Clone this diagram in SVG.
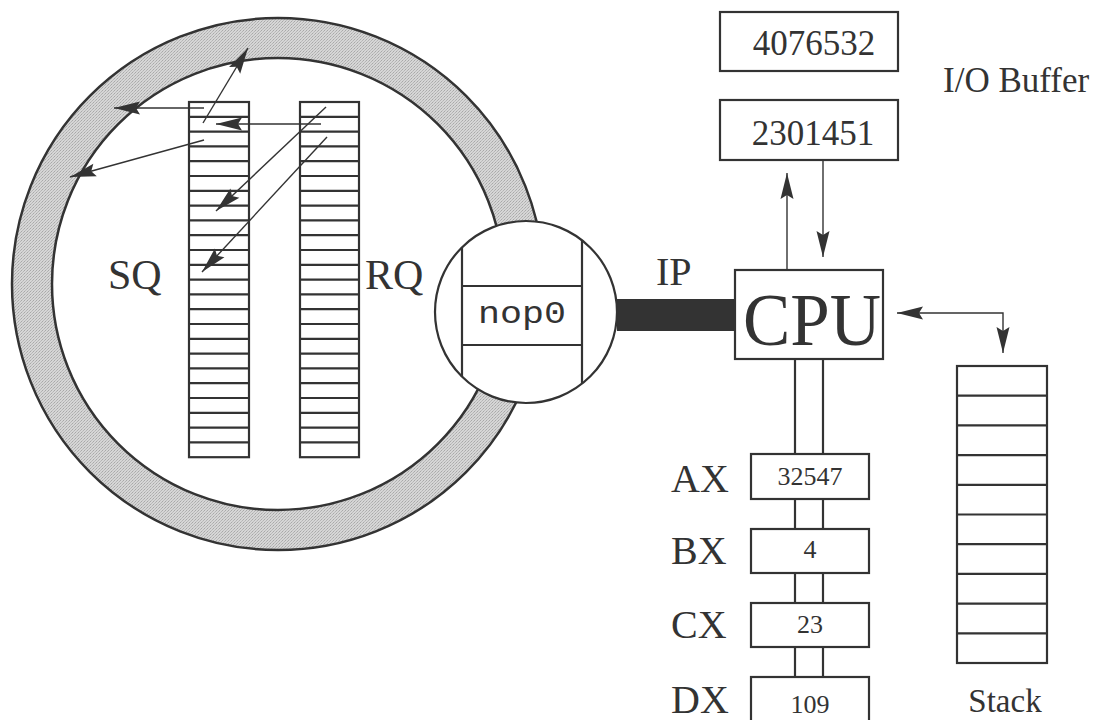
<svg xmlns="http://www.w3.org/2000/svg" width="1102" height="720" viewBox="0 0 1102 720">
<style>
.ln{fill:none;stroke:#333;stroke-width:2.2}
.th{fill:none;stroke:#333;stroke-width:1.4}
.bx{fill:#fff;stroke:#333;stroke-width:2.2}
.t{font-family:"Liberation Serif","Times New Roman",serif;fill:#333}
.m{font-family:"Liberation Mono","Courier New",monospace;fill:#333}
</style>
<defs>
<pattern id="stip" width="3" height="3" patternUnits="userSpaceOnUse">
<rect width="3" height="3" fill="#d6d6d6"/>
<rect x="0" y="0" width="1" height="1" fill="#a8a8a8"/>
<rect x="2" y="1" width="1" height="1" fill="#b4b4b4"/>
<rect x="1" y="2" width="1" height="1" fill="#bcbcbc"/>
</pattern>
<marker id="ah" markerWidth="30" markerHeight="16" refX="0" refY="0" orient="auto-start-reverse" markerUnits="userSpaceOnUse" overflow="visible">
<path d="M0,0 L-26,-6.5 L-22,0 L-26,6.5 Z" fill="#333"/>
</marker>
</defs>
<rect width="1102" height="720" fill="#fff"/>

<g id="ring">
<circle cx="278" cy="284" r="266" fill="url(#stip)" stroke="#333" stroke-width="2.5"/>
<circle cx="278" cy="284" r="226" fill="#fff" stroke="#333" stroke-width="2.5"/>
</g>

<g id="sq">
<rect x="189" y="102" width="60" height="355.2" class="ln"/>
<path class="ln" d="M189,116.8H249M189,131.6H249M189,146.4H249M189,161.2H249M189,176H249M189,190.8H249M189,205.6H249M189,220.4H249M189,235.2H249M189,250H249M189,264.8H249M189,279.6H249M189,294.4H249M189,309.2H249M189,324H249M189,338.8H249M189,353.6H249M189,368.4H249M189,383.2H249M189,398H249M189,412.8H249M189,427.6H249M189,442.4H249"/>
<text class="t" x="108" y="289" font-size="42">SQ</text>
</g>

<g id="rq">
<rect x="300" y="102" width="59" height="355.2" class="ln"/>
<path class="ln" d="M300,116.8H359M300,131.6H359M300,146.4H359M300,161.2H359M300,176H359M300,190.8H359M300,205.6H359M300,220.4H359M300,235.2H359M300,250H359M300,264.8H359M300,279.6H359M300,294.4H359M300,309.2H359M300,324H359M300,338.8H359M300,353.6H359M300,368.4H359M300,383.2H359M300,398H359M300,412.8H359M300,427.6H359M300,442.4H359"/>
<text class="t" x="365" y="289" font-size="42">RQ</text>
</g>

<g id="connectors">
<line class="th" x1="204" y1="108" x2="114" y2="108" marker-end="url(#ah)"/>
<line class="th" x1="203" y1="123" x2="248" y2="48" marker-end="url(#ah)"/>
<line class="th" x1="321" y1="124" x2="216" y2="124" marker-end="url(#ah)"/>
<line class="th" x1="204" y1="140" x2="70" y2="177" marker-end="url(#ah)"/>
<line class="th" x1="326" y1="107" x2="216" y2="211" marker-end="url(#ah)"/>
<line class="th" x1="327" y1="137" x2="202" y2="272" marker-end="url(#ah)"/>
<line class="th" x1="787" y1="270" x2="787" y2="173" marker-end="url(#ah)"/>
<line class="th" x1="823" y1="160" x2="823" y2="257" marker-end="url(#ah)"/>
<path class="th" d="M897,313 H1003 V353" marker-start="url(#ah)" marker-end="url(#ah)"/>
<rect x="617" y="299" width="120" height="32" fill="#333"/>
<path class="ln" d="M795,359V454M823,359V454M795,499V529M823,499V529M795,573V603M823,573V603M795,647V677M823,647V677"/>
</g>

<g id="ip">
<circle cx="526" cy="312" r="91" fill="#fff" stroke="#333" stroke-width="2.2"/>
<path class="ln" d="M462,247V377M582,240V384M462,286H582M462,345H582"/>
<text class="m" x="522" y="323" font-size="32" text-anchor="middle" textLength="88" lengthAdjust="spacingAndGlyphs">nop0</text>
<text class="t" x="656" y="285" font-size="40">IP</text>
</g>

<g id="io">
<rect x="720" y="12" width="178" height="59" class="bx"/>
<text class="t" x="814" y="55" font-size="35" text-anchor="middle">4076532</text>
<rect x="720" y="100" width="178" height="60" class="bx"/>
<text class="t" x="813" y="145" font-size="35" text-anchor="middle">2301451</text>
<text class="t" x="943" y="92" font-size="35">I/O Buffer</text>
</g>

<g id="cpu">
<rect x="735" y="270" width="148" height="89" class="bx"/>
<text class="t" x="743" y="345" font-size="74" textLength="138" lengthAdjust="spacingAndGlyphs">CPU</text>
</g>

<g id="regs">
<rect x="751" y="454" width="118" height="45" class="bx"/>
<text class="t" x="810" y="485" font-size="26" text-anchor="middle">32547</text>
<text class="t" x="671" y="492" font-size="40">AX</text>
<rect x="751" y="529" width="118" height="44" class="bx"/>
<text class="t" x="810" y="558" font-size="26" text-anchor="middle">4</text>
<text class="t" x="671" y="564" font-size="40">BX</text>
<rect x="751" y="603" width="118" height="44" class="bx"/>
<text class="t" x="810" y="633" font-size="26" text-anchor="middle">23</text>
<text class="t" x="671" y="638" font-size="40">CX</text>
<rect x="751" y="677" width="118" height="46" class="bx"/>
<text class="t" x="810" y="713" font-size="26" text-anchor="middle">109</text>
<text class="t" x="671" y="713" font-size="40">DX</text>
</g>

<g id="stack">
<rect x="957" y="366" width="90" height="297" class="bx"/>
<path class="ln" d="M957,395.7H1047M957,425.4H1047M957,455.1H1047M957,484.8H1047M957,514.5H1047M957,544.2H1047M957,573.9H1047M957,603.6H1047M957,633.3H1047"/>
<text class="t" x="1005" y="712" font-size="33" text-anchor="middle">Stack</text>
</g>
</svg>
